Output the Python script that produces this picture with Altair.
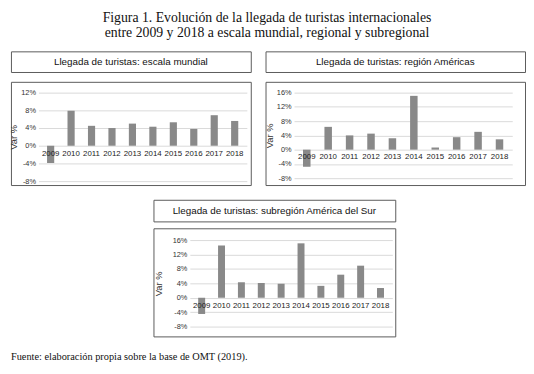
import altair as alt
import pandas as pd

years = [2009, 2010, 2011, 2012, 2013, 2014, 2015, 2016, 2017, 2018]
mundial = [-3.9, 7.9, 4.5, 4.0, 5.0, 4.3, 5.3, 3.8, 6.9, 5.6]
americas = [-4.8, 6.4, 4.0, 4.5, 3.2, 15.1, 0.6, 3.5, 5.0, 2.9]
sur = [-4.5, 14.5, 4.3, 4.1, 3.9, 15.1, 3.3, 6.4, 8.9, 2.7]

titles = [
    "Llegada de turistas: escala mundial",
    "Llegada de turistas: región Américas",
    "Llegada de turistas: subregión América del Sur",
]
fig_title = [
    "Figura 1. Evolución de la llegada de turistas internacionales",
    "entre 2009 y 2018 a escala mundial, regional y subregional",
]
source = "Fuente: elaboración propia sobre la base de OMT (2019)."

SANS = "Liberation Sans"
SERIF = "Liberation Serif"
BOX = "#5a5a5a"
BAR = "#898989"


def panel(title, vals, W, Ht, Hc, sp, x0, x1, ytop, ybot, ydom, yvals, title_x):
    df = pd.DataFrame({"year": [str(y) for y in years], "value": vals, "zero": [0] * len(years)})
    xsc = alt.Scale(range=[x0, x1], paddingInner=0.65, paddingOuter=0.42)
    ysc = alt.Scale(domain=ydom, range=[ybot, ytop], nice=False, zero=False)
    yax = alt.Axis(
        values=yvals, labelExpr="datum.value + '%'", offset=-x0, domain=False, ticks=False,
        grid=True, gridColor="#d9d9d9", gridWidth=1, labelFont=SANS, labelFontSize=7.5,
        labelColor="#333333", labelPadding=3, title="Var %", titleFont=SANS, titleFontSize=9.5,
        titleFontWeight="normal", titleColor="#333333", titleX=-title_x,
    )
    base = alt.Chart(df)
    bars = base.mark_bar(color=BAR).encode(
        x=alt.X("year:N", scale=xsc, axis=None),
        y=alt.Y("value:Q", scale=ysc, axis=yax),
        y2=alt.Y2("zero:Q"),
    )
    labels = base.mark_text(baseline="top", dy=4, fontSize=8, font=SANS, color="#222222").encode(
        x=alt.X("year:N", scale=xsc, axis=None),
        y=alt.Y("zero:Q", scale=ysc, axis=yax),
        text="year:N",
    )
    chart = alt.layer(bars, labels).properties(
        width=W, height=Hc, view=alt.ViewBackground(stroke=BOX, strokeWidth=1)
    )
    tbox = alt.Chart(pd.DataFrame({"t": [title]})).mark_text(
        font=SANS, fontSize=10, color="#111111", baseline="middle", align="center"
    ).encode(
        text="t:N", x=alt.value(W / 2), y=alt.value(Ht / 2)
    ).properties(width=W, height=Ht, view=alt.ViewBackground(stroke=BOX, strokeWidth=1))
    return alt.vconcat(tbox, chart, spacing=sp)


p1 = panel(titles[0], mundial, 244, 21, 105, 8, 28, 240, 11, 101, [-8, 12], [-8, -4, 0, 4, 8, 12], 20)
p2 = panel(titles[1], americas, 264, 21, 105, 8, 29, 251, 11, 98, [-8, 16], [-8, -4, 0, 4, 8, 12, 16], 20)
p3 = panel(titles[2], sur, 246, 22, 110, 5, 37, 243, 12, 100, [-8, 16], [-8, -4, 0, 4, 8, 12, 16], 27)

spacer = alt.Chart(pd.DataFrame({"t": [""]})).mark_text().encode(text="t:N").properties(width=144, height=10)

row1 = alt.hconcat(p1, p2, spacing=12)
row3 = alt.hconcat(spacer, p3, spacing=0)

footer = alt.Chart(pd.DataFrame({"t": [source]})).mark_text(
    font=SERIF, fontSize=10.5, color="#111111", align="left", baseline="middle"
).encode(text="t:N", x=alt.value(0), y=alt.value(7)).properties(width=400, height=14)

chart = alt.vconcat(row1, row3, footer, spacing=13).properties(
    title=alt.Title(fig_title, anchor="middle", font=SERIF, fontSize=14, fontWeight="normal",
                    color="#111111", lineHeight=15, offset=11),
    padding=0,
).configure_view(stroke=None)

chart.save("out.html", embed_options={"renderer": "svg", "actions": False})
